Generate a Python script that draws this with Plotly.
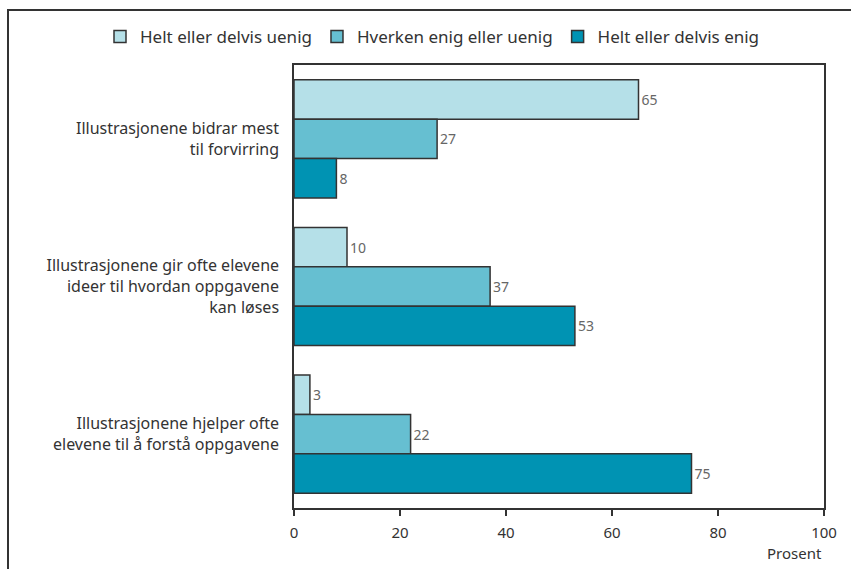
import plotly.graph_objects as go

# Survey statements (y categories) and answer shares in percent
statements = [
    "Illustrasjonene bidrar mest<br>til forvirring",
    "Illustrasjonene gir ofte elevene<br>ideer til hvordan oppgavene<br>kan løses",
    "Illustrasjonene hjelper ofte<br>elevene til å forstå oppgavene",
]
series_names = ["Helt eller delvis uenig", "Hverken enig eller uenig", "Helt eller delvis enig"]
uenig = [65, 10, 3]
hverken = [27, 37, 22]
enig = [8, 53, 75]
x_ticks = [0, 20, 40, 60, 80, 100]

colors = ["#b5e0e8", "#66bfd1", "#0093b3"]
FONT = "Noto Sans, Open Sans, sans-serif"

fig = go.Figure()
for name, vals, col in zip(series_names, [uenig, hverken, enig], colors):
    fig.add_trace(go.Bar(
        y=statements, x=vals, name=name, orientation="h",
        marker=dict(color=col, line=dict(color="#333333", width=1.5)),
        text=[str(v) for v in vals], textposition="outside",
        textfont=dict(color="#666666", size=14, family=FONT),
        cliponaxis=False,
    ))

W, H = 851, 569
L, R, T, B = 294, 27, 65, 61
pw, ph = W - L - R, H - T - B

fig.update_layout(
    width=W, height=H,
    margin=dict(l=L, r=R, t=T, b=B),
    paper_bgcolor="white", plot_bgcolor="white",
    barmode="group", bargap=0.2, bargroupgap=0,
    font=dict(family=FONT, size=15, color="#333333"),
    legend=dict(
        orientation="h", x=(100 - L) / pw, xanchor="left",
        y=(H - B - 37) / ph, yanchor="middle",
        font=dict(size=17, color="#333333"), traceorder="normal",
        itemwidth=30,
    ),
    xaxis=dict(
        range=[0, 100], tickvals=x_ticks, ticktext=[str(t) for t in x_ticks],
        showgrid=False, zeroline=False,
        showline=True, linecolor="#333333", linewidth=1.5, mirror=True,
        ticks="outside", ticklen=6, tickcolor="#333333", tickwidth=1.5,
        tickfont=dict(size=15, color="#333333"), ticklabelstandoff=4,
    ),
    yaxis=dict(
        autorange="reversed", showgrid=False, zeroline=False,
        showline=True, linecolor="#333333", linewidth=1.5, mirror=True,
        ticks="", ticklabelstandoff=10,
        tickfont=dict(size=16, color="#333333"),
    ),
    annotations=[dict(
        text="Prosent", xref="paper", yref="paper",
        x=1.0, xanchor="right", y=(H - B - 553) / ph, yanchor="middle",
        showarrow=False, font=dict(size=15, color="#333333"),
    )],
    shapes=[dict(
        type="rect", xref="paper", yref="paper", layer="below",
        x0=(8 - L) / pw, x1=(W + 10 - L) / pw,
        y0=(H - B - (H + 10)) / ph, y1=(H - B - 10) / ph,
        line=dict(color="#333333", width=2), fillcolor="rgba(0,0,0,0)",
    )],
)

fig.write_html("out.html")
